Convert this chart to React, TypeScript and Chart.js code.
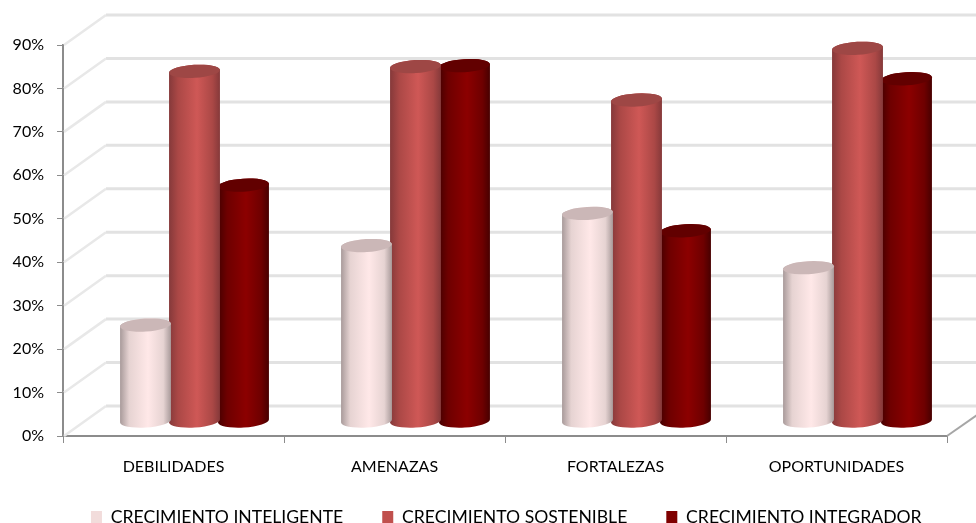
import React, { useEffect, useRef } from "react";
import { Chart, registerables } from "chart.js";

Chart.register(...registerables);

const categories = ["DEBILIDADES", "AMENAZAS", "FORTALEZAS", "OPORTUNIDADES"];
const inteligente = [22.2, 40.5, 47.9, 35.4];
const sostenible = [80.6, 81.7, 74, 85.9];
const integrador = [54.4, 81.9, 43.9, 78.9];
const seriesNames = ["CRECIMIENTO INTELIGENTE", "CRECIMIENTO SOSTENIBLE", "CRECIMIENTO INTEGRADOR"];
const legendColors = ["#f2dcdb", "#c0504d", "#7f0000"];
const shades = [
  { edge: "#a89a9a", mid: "#e6d3d2", light: "#ffe8e8", cap: "#cbb7b7" },
  { edge: "#85393a", mid: "#ab4846", light: "#cf5856", cap: "#9e4745" },
  { edge: "#470000", mid: "#6e0000", light: "#8c0000", cap: "#620000" },
];

const FONT = "Lato";
const DEPTH_X = 43;
const DEPTH_Y = 30;
const BAR_DX = 21;
const BAR_DY = 14.5;
const RY = 6.5;
const TILT = -0.06;

const scene3d = {
  id: "scene3d",
  afterLayout(chart: any) {
    const lg = chart.legend;
    lg.left += 32.8;
    lg.right += 32.8;
    lg.top = 469.2;
    lg.bottom = 523;
  },
  beforeDatasetsDraw(chart: any) {
    const { ctx, scales, width } = chart;
    const { x, y } = scales;
    ctx.save();
    ctx.lineCap = "butt";
    y.ticks.forEach((t: any) => {
      const py = y.getPixelForValue(t.value);
      ctx.strokeStyle = "#e2e2e2";
      ctx.lineWidth = 3;
      ctx.beginPath();
      ctx.moveTo(x.left + DEPTH_X, py - DEPTH_Y);
      ctx.lineTo(width, py - DEPTH_Y);
      ctx.stroke();
      ctx.lineWidth = 2.5;
      ctx.strokeStyle = "#e8e8e8";
      ctx.beginPath();
      ctx.moveTo(x.left + 1, py);
      ctx.lineTo(x.left + DEPTH_X, py - DEPTH_Y);
      ctx.stroke();
    });
    ctx.strokeStyle = "#a6a6a6";
    ctx.lineWidth = 2;
    ctx.beginPath();
    ctx.moveTo(x.right, y.bottom);
    ctx.lineTo(x.right + DEPTH_X, y.bottom - DEPTH_Y);
    ctx.stroke();
    ctx.restore();
  },
  beforeDatasetDraw(chart: any, args: any) {
    const { ctx } = chart;
    const look = shades[args.index];
    const bars = chart.getDatasetMeta(args.index).data;
    ctx.save();
    bars.forEach((bar: any) => {
      const x0 = bar.x - bar.width / 2 + BAR_DX - 1;
      const x1 = bar.x + bar.width / 2 + BAR_DX + 1;
      const cx = (x0 + x1) / 2;
      const rx = (x1 - x0) / 2;
      const top = bar.y - BAR_DY;
      const base = bar.base - BAR_DY;
      const g = ctx.createLinearGradient(x0, 0, x1, 0);
      g.addColorStop(0, look.edge);
      g.addColorStop(0.18, look.mid);
      g.addColorStop(0.55, look.light);
      g.addColorStop(0.85, look.mid);
      g.addColorStop(1, look.edge);
      ctx.fillStyle = g;
      ctx.beginPath();
      ctx.ellipse(cx, top, rx, RY, TILT, 0, Math.PI, true);
      ctx.ellipse(cx, base, rx, RY, TILT, Math.PI, 0, true);
      ctx.closePath();
      ctx.fill();
      ctx.fillStyle = look.cap;
      ctx.beginPath();
      ctx.ellipse(cx, top, rx, RY, TILT, 0, Math.PI * 2);
      ctx.fill();
    });
    ctx.restore();
    return false;
  },
};

export default function App() {
  const ref = useRef<HTMLCanvasElement>(null);
  useEffect(() => {
    const chart = new Chart(ref.current as HTMLCanvasElement, {
      type: "bar",
      data: {
        labels: categories,
        datasets: [inteligente, sostenible, integrador].map((data, i) => ({
          label: seriesNames[i],
          data,
          backgroundColor: legendColors[i],
          barPercentage: 1,
          categoryPercentage: 0.665,
        })),
      },
      options: {
        responsive: false,
        animation: false,
        devicePixelRatio: 1,
        layout: { padding: { top: 45, right: 29, left: 0, bottom: -30.6 } },
        plugins: {
          tooltip: { enabled: false },
          legend: {
            position: "bottom",
            labels: {
              boxWidth: 11,
              boxHeight: 12,
              padding: 39,
              color: "#000000",
              font: { family: FONT, size: 17.6 },
            },
          },
        },
        scales: {
          x: {
            afterFit: (s: any) => {
              s.height = 51;
            },
            grid: { drawOnChartArea: false, tickLength: 7, tickColor: "#8c8c8c" },
            border: { color: "#8c8c8c", width: 2 },
            ticks: { color: "#000000", font: { family: FONT, size: 16 }, padding: 14, maxRotation: 0 },
          },
          y: {
            min: 0,
            max: 90,
            afterFit: (s: any) => {
              s.width = 63;
            },
            grid: { drawOnChartArea: false, tickLength: 6, tickColor: "#8c8c8c" },
            border: { color: "#8c8c8c", width: 2 },
            ticks: {
              stepSize: 10,
              color: "#000000",
              font: { family: FONT, size: 16 },
              padding: 13,
              callback: (v: any) => v + "%",
            },
          },
        },
      } as any,
      plugins: [scene3d as any],
    });
    return () => chart.destroy();
  }, []);
  return (
    <div style={{ position: "fixed", left: 0, top: 0, width: 976, height: 523, background: "#ffffff" }}>
      <canvas ref={ref} width={976} height={523} style={{ display: "block" }} />
    </div>
  );
}
